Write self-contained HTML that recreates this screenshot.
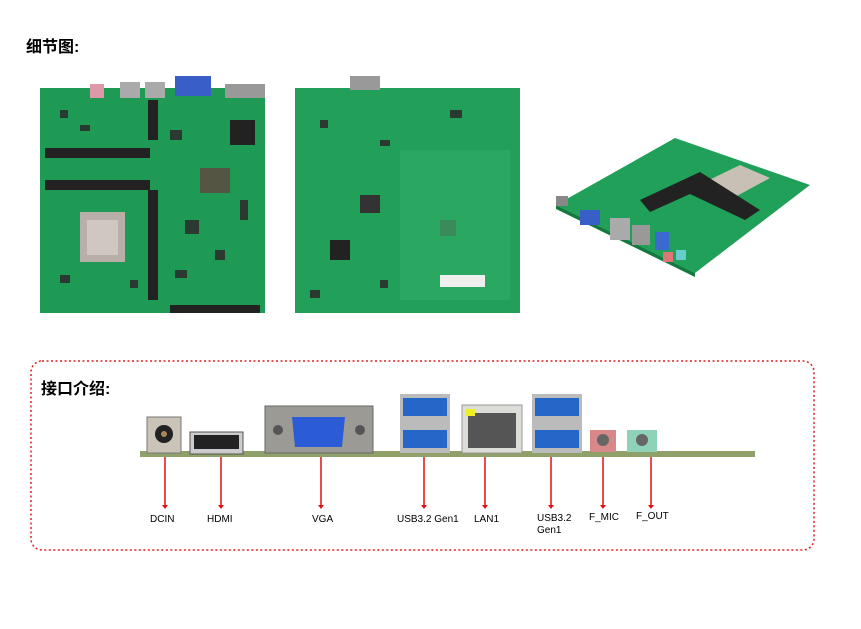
<!DOCTYPE html>
<html><head><meta charset="utf-8"><style>
html,body{margin:0;padding:0;background:#fff;}
body{width:861px;height:629px;overflow:hidden;position:relative;font-family:"Liberation Sans","Noto Sans CJK SC",sans-serif;}
</style></head><body>
<svg width="861" height="629" viewBox="0 0 861 629" xmlns="http://www.w3.org/2000/svg" style="position:absolute;left:0;top:0">
<text x="26" y="52" font-size="16" font-weight="bold" font-family="Liberation Sans,Noto Sans CJK SC,sans-serif" fill="#000">细节图:</text>
<!-- board 1 -->
<rect x="40" y="88" width="225" height="225" fill="#1f9a55"/>
<rect x="175" y="76" width="36" height="20" fill="#3a5ec8"/>
<rect x="120" y="82" width="20" height="16" fill="#aaa"/><rect x="145" y="82" width="20" height="16" fill="#aaa"/>
<rect x="90" y="84" width="14" height="14" fill="#d9a"/><rect x="225" y="84" width="40" height="14" fill="#999"/>
<rect x="45" y="148" width="105" height="10" fill="#222"/><rect x="45" y="180" width="105" height="10" fill="#222"/>
<rect x="148" y="190" width="10" height="110" fill="#222"/><rect x="148" y="100" width="10" height="40" fill="#222"/>
<rect x="80" y="212" width="45" height="50" fill="#b8b0a8"/><rect x="87" y="220" width="31" height="35" fill="#cfc8c0"/>
<rect x="200" y="168" width="30" height="25" fill="#554"/><rect x="230" y="120" width="25" height="25" fill="#222"/>
<rect x="170" y="305" width="90" height="8" fill="#222"/>
<g fill="#2a3a30">
<rect x="60" y="110" width="8" height="8"/><rect x="80" y="125" width="10" height="6"/><rect x="170" y="130" width="12" height="10"/>
<rect x="185" y="220" width="14" height="14"/><rect x="215" y="250" width="10" height="10"/><rect x="60" y="275" width="10" height="8"/>
<rect x="130" y="280" width="8" height="8"/><rect x="240" y="200" width="8" height="20"/><rect x="175" y="270" width="12" height="8"/>
</g>
<!-- board 2 -->
<rect x="295" y="88" width="225" height="225" fill="#22a05a"/>
<rect x="350" y="76" width="30" height="14" fill="#999"/>
<rect x="400" y="150" width="110" height="150" fill="#2aa862"/>
<rect x="330" y="240" width="20" height="20" fill="#222"/>
<rect x="440" y="275" width="45" height="12" fill="#eee"/>
<rect x="360" y="195" width="20" height="18" fill="#333"/>
<g fill="#2a3a30">
<rect x="320" y="120" width="8" height="8"/><rect x="380" y="140" width="10" height="6"/><rect x="450" y="110" width="12" height="8"/>
<rect x="310" y="290" width="10" height="8"/><rect x="380" y="280" width="8" height="8"/><rect x="440" y="220" width="16" height="16" fill="#3a8a5a"/>
</g>
<!-- board 3 iso -->
<polygon points="556,205 675,138 810,185 695,273" fill="#20a058"/>
<polygon points="556,205 695,273 695,277 556,209" fill="#137a3e"/>
<polygon points="705,182 740,165 770,178 735,197" fill="#c9c0b5"/>
<polygon points="640,200 700,172 760,210 745,220 690,194 650,212" fill="#222"/>
<rect x="580" y="210" width="20" height="15" fill="#3a5ec8"/>
<rect x="610" y="218" width="20" height="22" fill="#aaa"/><rect x="632" y="225" width="18" height="20" fill="#999"/>
<rect x="655" y="232" width="14" height="18" fill="#3a6ad0"/>
<rect x="676" y="250" width="10" height="10" fill="#6cc"/><rect x="663" y="252" width="10" height="10" fill="#d77"/>
<rect x="556" y="196" width="12" height="10" fill="#888"/>
<!-- interface box -->
<rect x="31" y="361" width="783" height="189" rx="11" fill="none" stroke="#e02020" stroke-width="1.5" stroke-dasharray="2,2.5"/>
<text x="41" y="394" font-size="16" font-weight="bold" font-family="Liberation Sans,Noto Sans CJK SC,sans-serif" fill="#000">接口介绍:</text>
<rect x="140" y="451" width="615" height="6" fill="#8fa068"/>
<rect x="147" y="417" width="34" height="36" fill="#c9c3b8" stroke="#777"/><circle cx="164" cy="434" r="9" fill="#222"/><circle cx="164" cy="434" r="3" fill="#a85"/>
<rect x="190" y="432" width="53" height="22" fill="#ccc" stroke="#555"/><rect x="194" y="435" width="45" height="14" fill="#222"/>
<rect x="265" y="406" width="108" height="47" fill="#9c9a95" stroke="#666"/>
<polygon points="292,417 345,417 342,447 295,447" fill="#2b5bd6"/>
<circle cx="278" cy="430" r="5" fill="#555"/><circle cx="360" cy="430" r="5" fill="#555"/>
<rect x="400" y="394" width="50" height="59" fill="#bbb"/><rect x="403" y="398" width="44" height="18" fill="#2467c8"/><rect x="403" y="430" width="44" height="18" fill="#2467c8"/>
<rect x="462" y="405" width="60" height="48" fill="#dcdcd8" stroke="#999"/><rect x="468" y="413" width="48" height="35" fill="#555"/><rect x="466" y="409" width="9" height="7" fill="#ee2"/>
<rect x="532" y="394" width="50" height="59" fill="#bbb"/><rect x="535" y="398" width="44" height="18" fill="#2467c8"/><rect x="535" y="430" width="44" height="18" fill="#2467c8"/>
<rect x="590" y="430" width="26" height="22" fill="#d88888"/><circle cx="603" cy="440" r="6" fill="#666"/>
<rect x="627" y="430" width="30" height="22" fill="#8ed3b8"/><circle cx="642" cy="440" r="6" fill="#666"/>
<g stroke="#e01010" stroke-width="1.5">
<line x1="165" y1="457" x2="165" y2="506"/><line x1="221" y1="457" x2="221" y2="506"/>
<line x1="321" y1="457" x2="321" y2="506"/><line x1="424" y1="457" x2="424" y2="506"/>
<line x1="485" y1="457" x2="485" y2="506"/><line x1="551" y1="457" x2="551" y2="506"/>
<line x1="603" y1="457" x2="603" y2="506"/><line x1="651" y1="457" x2="651" y2="506"/>
</g>
<g fill="#e01010">
<polygon points="162,505 168,505 165,509"/><polygon points="218,505 224,505 221,509"/>
<polygon points="318,505 324,505 321,509"/><polygon points="421,505 427,505 424,509"/>
<polygon points="482,505 488,505 485,509"/><polygon points="548,505 554,505 551,509"/>
<polygon points="600,505 606,505 603,509"/><polygon points="648,505 654,505 651,509"/>
</g>
<g font-size="10" fill="#000" font-family="Liberation Sans,sans-serif">
<text x="150" y="522">DCIN</text>
<text x="207" y="522">HDMI</text>
<text x="312" y="522">VGA</text>
<text x="397" y="522">USB3.2 Gen1</text>
<text x="474" y="522">LAN1</text>
<text x="537" y="521">USB3.2</text>
<text x="537" y="533">Gen1</text>
<text x="589" y="520">F_MIC</text>
<text x="636" y="519">F_OUT</text>
</g>
</svg>
</body></html>
